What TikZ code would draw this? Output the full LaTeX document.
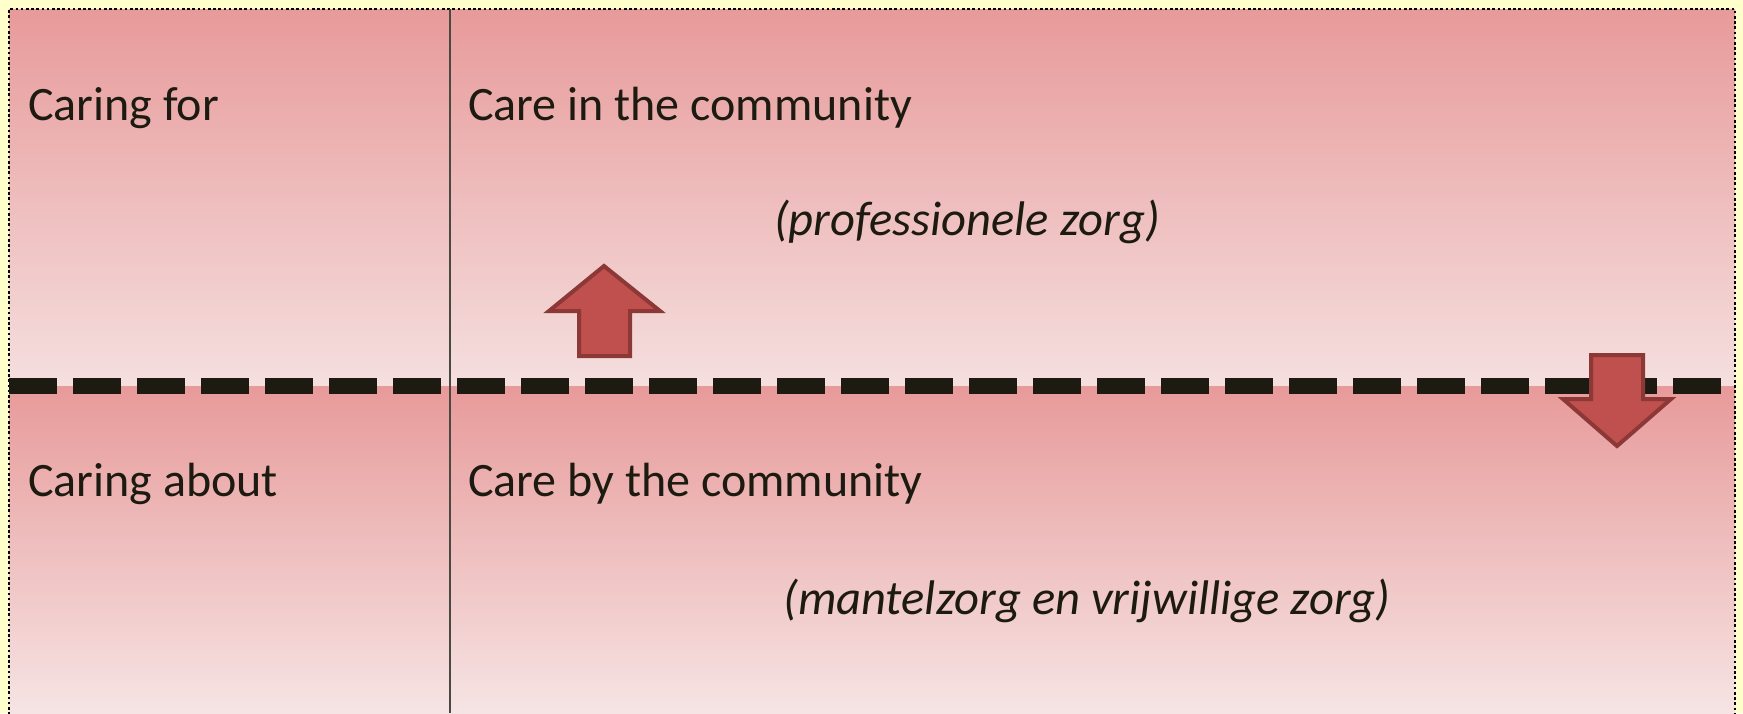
\documentclass[tikz,border=0pt]{standalone}
\usepackage{fontspec}
\setmainfont{Carlito}

\definecolor{bgyellow}{HTML}{FFFFCC}
\definecolor{pinktop}{HTML}{E89A9A}
\definecolor{pinklow}{HTML}{F5DFDF}
\definecolor{pinkend}{HTML}{F6E4E4}
\definecolor{darktext}{HTML}{1D1B11}
\definecolor{arrowfill}{HTML}{C0504D}
\definecolor{arrowline}{HTML}{8C3836}

\begin{document}
\begin{tikzpicture}[x=1pt, y=1pt,
    heading/.style = {anchor=base west, inner sep=0pt, text=darktext, font=\fontsize{48}{57}\selectfont},
    remark/.style = {anchor=base, inner sep=0pt, text=darktext, font=\fontsize{48.6}{58}\selectfont\itshape},
    bigarrow/.style = {fill=arrowfill, draw=arrowline, line width=4pt, miter limit=10}]
    \useasboundingbox (0,0) rectangle (1743,-713);
    \fill[bgyellow] (0,0) rectangle (1743,-713);
    \shade[top color=pinktop, bottom color=pinklow] (9,-9) rectangle (1735,-386);
    \shade[top color=pinktop, bottom color=pinkend] (9,-386) rectangle (1735,-713);
    \draw[black, line width=2.6pt, dash pattern=on 2.6pt off 2.6pt] (9,-720) -- (9,-9) -- (1735,-9) -- (1735,-720);
    \coordinate (colTop) at (450,-9);
    \coordinate (colBot) at (450,-713);
    \draw[darktext!80, line width=1.3pt] (colTop) -- (colBot);
    \node[heading] (carefor) at (28,-120) {Caring for};
    \node[heading] (carein) at (468,-120) {Care in the community};
    \node[remark] (prof) at (967,-235) {(professionele zorg)};
    \node[heading] (careabout) at (28,-496) {Caring about};
    \node[heading] (careby) at (468,-496) {Care by the community};
    \node[remark] (mantel) at (1087,-614) {(mantelzorg en vrijwillige zorg)};
    \draw[bigarrow] (604,-266) -- (660,-311) -- (630,-311) -- (630,-356) -- (579,-356) -- (579,-311) -- (549,-311) -- cycle;
    \coordinate (divL) at (9,-386);
    \coordinate (divR) at (1735,-386);
    \draw[darktext, line width=16pt, dash pattern=on 48pt off 16pt] (divL) -- (divR);
    \draw[bigarrow] (1617,-446) -- (1671,-399) -- (1643,-399) -- (1643,-355) -- (1591,-355) -- (1591,-399) -- (1563,-399) -- cycle;
\end{tikzpicture}
\end{document}
